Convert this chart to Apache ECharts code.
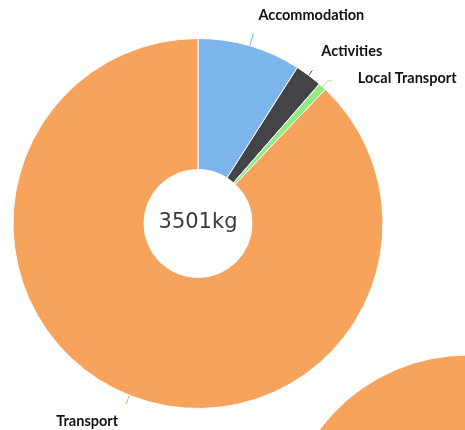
<!DOCTYPE html>
<html><head><meta charset="utf-8">
<script src="https://cdn.jsdelivr.net/npm/echarts@6/dist/echarts.min.js"></script>
<style>html,body{margin:0;padding:0;background:#fff}#c{width:465px;height:430px}</style>
</head><body><div id="c"></div>
<script>
const categories = ['Accommodation', 'Activities', 'Local Transport', 'Transport'];
const values = [316, 83, 24, 3078];
const centerLabel = '3501kg';
const palette = ['#7cb5ec', '#434348', '#90ed7d', '#f7a35c'];

const lineTweaks = {
  'Accommodation': { labelLine: { length: 13, length2: 0 } },
  'Activities': { labelLine: { length: 6, length2: 0 } },
  'Local Transport': { labelLine: { length: 8, length2: 4 } },
  'Transport': { labelLine: { length: 9, length2: 0 } }
};
const labelShift = {
  'Accommodation': [0, -18],
  'Activities': [4, -19],
  'Local Transport': [21, -2],
  'Transport': [-3, 18]
};

const chart = echarts.init(document.getElementById('c'), null, { renderer: 'canvas' });
const mainData = categories.map((name, i) => Object.assign({ name: name, value: values[i] }, lineTweaks[name]));
const ghostData = categories.map((name, i) => ({ name: name, value: values[i] }));

chart.setOption({
  animation: false,
  color: palette,
  graphic: [{
    type: 'text', x: 198, y: 223, z: 100,
    style: { text: centerLabel, align: 'center', verticalAlign: 'middle',
      font: '21px "DejaVu Sans"', fill: '#3a3a3a' }
  }],
  series: [
    {
      type: 'pie', center: [198, 223.5], radius: [54, 185],
      startAngle: 90, clockwise: true, avoidLabelOverlap: false,
      itemStyle: { borderColor: '#ffffff', borderWidth: 1 },
      label: { show: true, position: 'outside', formatter: '{b}',
        fontFamily: 'Lato', fontWeight: 'bold', fontSize: 14.5,
        color: '#111111', distanceToLabelLine: 5, edgeDistance: 0, overflow: 'none' },
      labelLine: { show: true, smooth: 0.2, lineStyle: { width: 1 } },
      labelLayout: function (p) {
        const s = labelShift[categories[p.dataIndex]];
        return { dx: s[0], dy: s[1] };
      },
      emphasis: { disabled: true },
      data: mainData
    },
    {
      type: 'pie', center: [468, 540], radius: [54, 185],
      startAngle: 90, clockwise: true, silent: true,
      itemStyle: { borderColor: '#ffffff', borderWidth: 1 },
      label: { show: false }, labelLine: { show: false },
      data: ghostData
    }
  ]
});
</script></body></html>
